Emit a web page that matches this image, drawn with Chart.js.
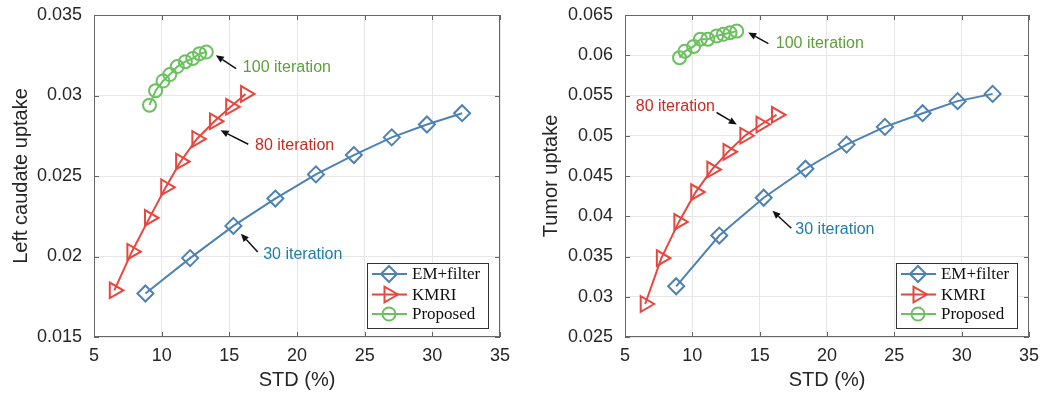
<!DOCTYPE html>
<html>
<head>
<meta charset="utf-8">
<script src="https://cdn.jsdelivr.net/npm/chart.js@4.4.1/dist/chart.umd.min.js"></script>
<style>
html, body { margin: 0; padding: 0; background: #fff; }
#wrap { position: relative; width: 1047px; height: 399px; }
#leftBox { position: absolute; left: 0; top: 0; }
#rightBox { position: absolute; left: 530px; top: 0; }
</style>
</head>
<body>
<div id="wrap">
  <div id="leftBox"><canvas id="caudateChart" width="520" height="399"></canvas></div>
  <div id="rightBox"><canvas id="tumorChart" width="517" height="399"></canvas></div>
</div>
<script>
// series names / looks
const seriesNames = ["EM+filter", "KMRI", "Proposed"];
const seriesColors = ["#4d82b3", "#e9463f", "#6cc060"];

// left panel: left caudate
const caudateEmStd = [8.8, 12.1, 15.3, 18.4, 21.4, 24.2, 27.0, 29.6, 32.2];
const caudateEmUptake = [0.0177, 0.0199, 0.0219, 0.0236, 0.0251, 0.0263, 0.0274, 0.0282, 0.0289];
const caudateKmriStd = [6.5, 7.8, 9.1, 10.3, 11.4, 12.6, 13.9, 15.1, 16.2];
const caudateKmriUptake = [0.0179, 0.0203, 0.0224, 0.0243, 0.0259, 0.0273, 0.0284, 0.0293, 0.0301];
const caudatePropStd = [9.1, 9.55, 10.1, 10.6, 11.15, 11.75, 12.3, 12.8, 13.3];
const caudatePropUptake = [0.0294, 0.0303, 0.0309, 0.0313, 0.0318, 0.0321, 0.0323, 0.0326, 0.0327];

// right panel: tumor
const tumorEmStd = [8.8, 12.0, 15.3, 18.4, 21.45, 24.3, 27.1, 29.7, 32.3];
const tumorEmUptake = [0.0313, 0.0376, 0.0423, 0.0459, 0.0489, 0.0511, 0.0528, 0.0543, 0.0552];
const tumorKmriStd = [6.5, 7.7, 9.0, 10.25, 11.45, 12.65, 13.9, 15.1, 16.25];
const tumorKmriUptake = [0.0291, 0.0348, 0.0393, 0.0430, 0.0458, 0.0480, 0.0500, 0.0514, 0.0526];
const tumorPropStd = [9.05, 9.45, 10.1, 10.6, 11.15, 11.8, 12.3, 12.8, 13.3];
const tumorPropUptake = [0.0597, 0.0605, 0.0611, 0.0620, 0.0620, 0.0624, 0.0626, 0.0628, 0.0630];

// axis ranges
const stdRange = [5, 35, 5];
const caudateRange = [0.015, 0.035, 0.005];
const tumorRange = [0.025, 0.065, 0.005];

// "N iteration" notes: text anchor and arrow (tail -> head), in data units
const caudateNotes = [
  { text: "100 iteration", color: "#5d9f3a", align: "left", tx: 16.0, ty: 0.03173, x0: 15.5, y0: 0.03167, x1: 14.0, y1: 0.0325 },
  { text: "80 iteration", color: "#c92b20", align: "left", tx: 16.9, ty: 0.02691, x0: 16.4, y0: 0.02697, x1: 14.35, y1: 0.02784 },
  { text: "30 iteration", color: "#1f7ea1", align: "left", tx: 17.5, ty: 0.02014, x0: 17.1, y0: 0.02028, x1: 15.85, y1: 0.02142 }
];
const tumorNotes = [
  { text: "100 iteration", color: "#5d9f3a", align: "left", tx: 16.2, ty: 0.06145, x0: 15.65, y0: 0.06145, x1: 14.15, y1: 0.06282 },
  { text: "80 iteration", color: "#c92b20", align: "left", tx: 5.8, ty: 0.05367, x0: 11.8, y0: 0.05289, x1: 13.3, y1: 0.0514 },
  { text: "30 iteration", color: "#1f7ea1", align: "left", tx: 17.65, ty: 0.03837, x0: 17.35, y0: 0.0385, x1: 15.95, y1: 0.04068 }
];

const SANS = "'Liberation Sans', Arial, sans-serif";
const SERIF = "'Liberation Serif', 'Times New Roman', serif";
const FRAME = "#666666";

function pairUp(xs, ys) {
  return xs.map((x, i) => ({ x: x, y: ys[i] }));
}

function buildSets(stds, uptakes) {
  const marker = [
    { pointStyle: "rectRot", pointRadius: 8, pointRotation: 0 },
    { pointStyle: "triangle", pointRadius: 9, pointRotation: 90 },
    { pointStyle: "circle", pointRadius: 6.5, pointRotation: 0 }
  ];
  return seriesNames.map((name, i) => ({
    label: name,
    data: pairUp(stds[i], uptakes[i]),
    borderColor: seriesColors[i],
    borderWidth: 2,
    pointStyle: marker[i].pointStyle,
    pointRadius: marker[i].pointRadius,
    pointHoverRadius: marker[i].pointRadius,
    pointRotation: marker[i].pointRotation,
    pointBorderColor: seriesColors[i],
    pointBackgroundColor: "rgba(0,0,0,0)",
    pointBorderWidth: 2,
    fill: false,
    tension: 0
  }));
}

function trimNum(v) {
  return String(Number(v.toFixed(4)));
}

/* box, inward ticks, legend, notes */
const extrasPlugin = {
  id: "extras",
  afterDraw(chart, args, opts) {
    const ctx = chart.ctx;
    const a = chart.chartArea;
    const xs = chart.scales.x, ys = chart.scales.y;

    ctx.save();
    ctx.strokeStyle = FRAME;
    ctx.lineWidth = 1;
    ctx.strokeRect(a.left + 0.5, a.top + 0.5, a.right - a.left - 1, a.bottom - a.top - 1);
    ctx.beginPath();
    xs.ticks.forEach(t => {
      const px = Math.round(xs.getPixelForValue(t.value)) + 0.5;
      ctx.moveTo(px, a.bottom); ctx.lineTo(px, a.bottom - 5);
      ctx.moveTo(px, a.top); ctx.lineTo(px, a.top + 5);
    });
    ys.ticks.forEach(t => {
      const py = Math.round(ys.getPixelForValue(t.value)) + 0.5;
      ctx.moveTo(a.left, py); ctx.lineTo(a.left + 5, py);
      ctx.moveTo(a.right, py); ctx.lineTo(a.right - 5, py);
    });
    ctx.stroke();

    // notes with arrows
    (opts.notes || []).forEach(n => {
      const x0 = xs.getPixelForValue(n.x0), y0 = ys.getPixelForValue(n.y0);
      const x1 = xs.getPixelForValue(n.x1), y1 = ys.getPixelForValue(n.y1);
      const ang = Math.atan2(y1 - y0, x1 - x0);
      const hl = 8, hw = 3.5;
      ctx.strokeStyle = "#111";
      ctx.fillStyle = "#111";
      ctx.lineWidth = 1.5;
      ctx.beginPath();
      ctx.moveTo(x0, y0);
      ctx.lineTo(x1 - Math.cos(ang) * hl, y1 - Math.sin(ang) * hl);
      ctx.stroke();
      ctx.beginPath();
      ctx.moveTo(x1, y1);
      ctx.lineTo(x1 - Math.cos(ang) * hl - Math.sin(ang) * hw, y1 - Math.sin(ang) * hl + Math.cos(ang) * hw);
      ctx.lineTo(x1 - Math.cos(ang) * hl + Math.sin(ang) * hw, y1 - Math.sin(ang) * hl - Math.cos(ang) * hw);
      ctx.closePath();
      ctx.fill();

      ctx.font = "16px " + SANS;
      ctx.fillStyle = n.color;
      ctx.textAlign = n.align;
      ctx.textBaseline = "middle";
      ctx.fillText(n.text, xs.getPixelForValue(n.tx), ys.getPixelForValue(n.ty));
    });

    // legend box in the lower right corner
    const bw = 121, bh = 65;
    const bx = a.right - 12 - bw, by = a.bottom - 9 - bh;
    ctx.fillStyle = "#fff";
    ctx.fillRect(bx, by, bw, bh);
    ctx.strokeStyle = "#333";
    ctx.lineWidth = 1;
    ctx.strokeRect(bx + 0.5, by + 0.5, bw, bh);
    const rows = [11, 31.5, 51];
    chart.data.datasets.forEach((ds, i) => {
      const ry = by + rows[i];
      ctx.strokeStyle = ds.borderColor;
      ctx.lineWidth = 2;
      ctx.beginPath();
      ctx.moveTo(bx + 5, ry);
      ctx.lineTo(bx + 40, ry);
      ctx.stroke();
      ctx.fillStyle = "rgba(0,0,0,0)";
      Chart.helpers.drawPoint(ctx, {
        pointStyle: ds.pointStyle,
        radius: ds.pointRadius,
        rotation: ds.pointRotation,
        borderWidth: 2
      }, bx + 22, ry);
      ctx.fillStyle = "#111";
      ctx.font = "17px " + SERIF;
      ctx.textAlign = "left";
      ctx.textBaseline = "middle";
      ctx.fillText(ds.label, bx + 45, ry + 1);
    });
    ctx.restore();
  }
};

function makeChart(canvasId, sets, yRange, yTitle, yWidth, rightPad, notes) {
  return new Chart(document.getElementById(canvasId), {
    type: "line",
    data: { datasets: sets },
    options: {
      responsive: false,
      animation: false,
      events: [],
      layout: { padding: { top: 15, right: rightPad, left: 0, bottom: 0 } },
      plugins: {
        legend: { display: false },
        tooltip: { enabled: false },
        extras: { notes: notes }
      },
      scales: {
        x: {
          type: "linear",
          min: stdRange[0],
          max: stdRange[1],
          ticks: {
            stepSize: stdRange[2],
            color: "#262626",
            font: { family: SANS, size: 18 },
            padding: 8,
            maxRotation: 0
          },
          grid: { color: "#e6e6e6", drawTicks: false },
          border: { display: false },
          title: {
            display: true,
            text: "STD (%)",
            color: "#262626",
            font: { family: SANS, size: 20 },
            padding: { top: 7, bottom: 7 }
          },
          afterFit(scale) { scale.height = 62; }
        },
        y: {
          type: "linear",
          min: yRange[0],
          max: yRange[1],
          ticks: {
            stepSize: yRange[2],
            color: "#262626",
            font: { family: SANS, size: 18 },
            padding: 12,
            callback: v => trimNum(v)
          },
          grid: { color: "#e6e6e6", drawTicks: false },
          border: { display: false },
          title: {
            display: true,
            text: yTitle,
            color: "#262626",
            font: { family: SANS, size: 20 },
            padding: { top: 9, bottom: 9 }
          },
          afterFit(scale) {
            scale.width = yWidth;
            scale.paddingTop = 0;
            scale.paddingBottom = 0;
          }
        }
      }
    },
    plugins: [extrasPlugin]
  });
}

makeChart("caudateChart",
  buildSets([caudateEmStd, caudateKmriStd, caudatePropStd], [caudateEmUptake, caudateKmriUptake, caudatePropUptake]),
  caudateRange, "Left caudate uptake", 94, 20, caudateNotes);

makeChart("tumorChart",
  buildSets([tumorEmStd, tumorKmriStd, tumorPropStd], [tumorEmUptake, tumorKmriUptake, tumorPropUptake]),
  tumorRange, "Tumor uptake", 95, 18, tumorNotes);
</script>
</body>
</html>
